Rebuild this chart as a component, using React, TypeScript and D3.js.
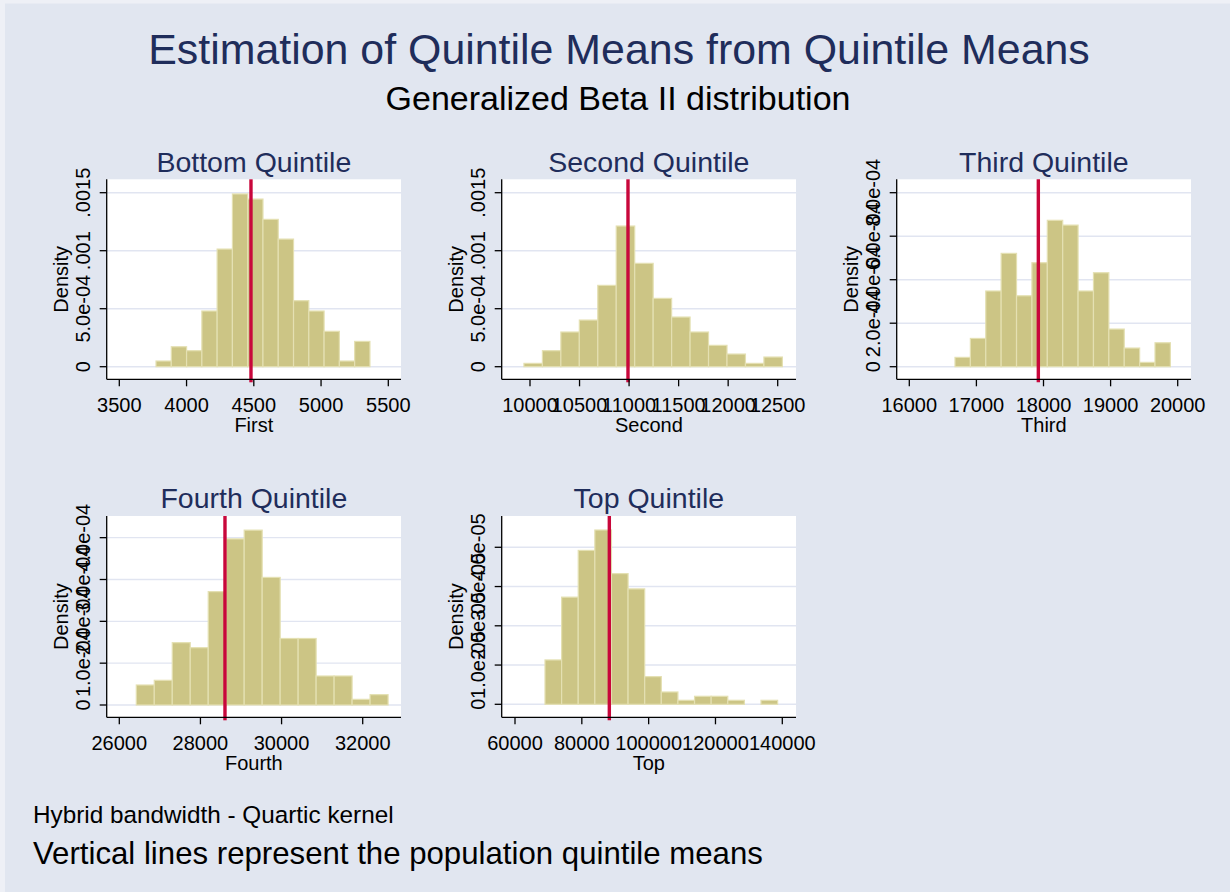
import React from "react";
import * as d3 from "d3";

// ---------- data ----------
const panelTitles = ["Bottom Quintile", "Second Quintile", "Third Quintile", "Fourth Quintile", "Top Quintile"];
const axisTitles = ["First", "Second", "Third", "Fourth", "Top"];

const firstBinStart = 3773;
const firstBinWidth = 113.6;
const firstDensity = [0.000049, 0.000172, 0.000138, 0.00048, 0.001014, 0.001489, 0.001445, 0.00127, 0.0011, 0.000569, 0.00048, 0.000305, 0.000049, 0.000218];
const firstMean = 4479;

const secondBinStart = 9939;
const secondBinWidth = 186.3;
const secondDensity = [0.0000287, 0.000138, 0.000299, 0.000402, 0.000701, 0.0012126, 0.000891, 0.000589, 0.000428, 0.000299, 0.000184, 0.000109, 0.0000287, 0.0000833];
const secondMean = 10989;

const thirdBinStart = 16681;
const thirdBinWidth = 229.3;
const thirdDensity = [0.0000429, 0.00013, 0.000348, 0.000521, 0.000326, 0.000478, 0.000673, 0.000651, 0.000348, 0.000432, 0.000173, 0.0000858, 0.0000199, 0.00011];
const thirdMean = 17923;

const fourthBinStart = 26419;
const fourthBinWidth = 443.3;
const fourthDensity = [0.0000478, 0.000059, 0.000149, 0.000137, 0.000271, 0.000397, 0.000418, 0.000305, 0.000159, 0.000159, 0.0000693, 0.0000693, 0.0000135, 0.0000247];
const fourthMean = 28605;

const topBinStart = 68978;
const topBinWidth = 4973;
const topDensity = [0.0000113, 0.0000273, 0.0000392, 0.0000444, 0.0000333, 0.0000294, 0.00000705, 0.00000314, 0.00000102, 0.00000204, 0.00000204, 0.00000102, 0, 0.00000102];
const topMean = 88229;

const firstXTicks = [3500, 4000, 4500, 5000, 5500];
const secondXTicks = [10000, 10500, 11000, 11500, 12000, 12500];
const thirdXTicks = [16000, 17000, 18000, 19000, 20000];
const fourthXTicks = [26000, 28000, 30000, 32000];
const topXTicks = [60000, 80000, 100000, 120000, 140000];

const firstYTicks = [0, 0.0005, 0.001, 0.0015];
const firstYLabels = ["0", "5.0e-04", ".001", ".0015"];
const thirdYTicks = [0, 0.0002, 0.0004, 0.0006, 0.0008];
const thirdYLabels = ["0", "2.0e-04", "4.0e-04", "6.0e-04", "8.0e-04"];
const fourthYTicks = [0, 0.0001, 0.0002, 0.0003, 0.0004];
const fourthYLabels = ["0", "1.0e-04", "2.0e-04", "3.0e-04", "4.0e-04"];
const topYTicks = [0, 0.00001, 0.00002, 0.00003, 0.00004];
const topYLabels = ["0", "1.0e-05", "2.0e-05", "3.0e-05", "4.0e-05"];

// ---------- layout ----------
const W = 1230;
const H = 892;
const FONT = "'Liberation Sans', Arial, Helvetica, sans-serif";
const NAVY = "#1f2d5b";
const BG = "#e1e6f0";
const BAR = "#ccc585";
const BAR_EDGE = "#e4e0b2";
const RED = "#c8073b";
const GRID = "#e1e5f1";

type Panel = {
  title: string; xTitle: string;
  rect: [number, number, number, number]; // left, top, right, bottom
  xDom: [number, number]; yDom: [number, number];
  binStart: number; binWidth: number; dens: number[]; mean: number;
  xTicks: number[]; yTicks: number[]; yLabels: string[];
};

const panels: Panel[] = [
  { title: panelTitles[0], xTitle: axisTitles[0], rect: [106.7, 179.3, 401, 379.3], xDom: [3406.3, 5594.4], yDom: [-0.0001086, 0.0016155],
    binStart: firstBinStart, binWidth: firstBinWidth, dens: firstDensity, mean: firstMean, xTicks: firstXTicks, yTicks: firstYTicks, yLabels: firstYLabels },
  { title: panelTitles[1], xTitle: axisTitles[1], rect: [501.7, 179.3, 796, 379.3], xDom: [9714.4, 12684.7], yDom: [-0.0001086, 0.0016155],
    binStart: secondBinStart, binWidth: secondBinWidth, dens: secondDensity, mean: secondMean, xTicks: secondXTicks, yTicks: firstYTicks, yLabels: firstYLabels },
  { title: panelTitles[2], xTitle: axisTitles[2], rect: [896.7, 179.3, 1191, 379.3], xDom: [15812.2, 20198.2], yDom: [-0.0000579, 0.0008616],
    binStart: thirdBinStart, binWidth: thirdBinWidth, dens: thirdDensity, mean: thirdMean, xTicks: thirdXTicks, yTicks: thirdYTicks, yLabels: thirdYLabels },
  { title: panelTitles[3], xTitle: axisTitles[3], rect: [106.7, 516, 401, 717.3], xDom: [25689.4, 32944], yDom: [-0.0000294, 0.0004518],
    binStart: fourthBinStart, binWidth: fourthBinWidth, dens: fourthDensity, mean: fourthMean, xTicks: fourthXTicks, yTicks: fourthYTicks, yLabels: fourthYLabels },
  { title: panelTitles[4], xTitle: axisTitles[4], rect: [501.7, 516, 796, 717.3], xDom: [56019, 144100], yDom: [-0.00000331, 0.00004797],
    binStart: topBinStart, binWidth: topBinWidth, dens: topDensity, mean: topMean, xTicks: topXTicks, yTicks: topYTicks, yLabels: topYLabels },
];

function PanelView({ p }: { p: Panel }) {
  const [l, t, r, b] = p.rect;
  const x = d3.scaleLinear().domain(p.xDom).range([l, r]);
  const y = d3.scaleLinear().domain(p.yDom).range([b, t]);
  const cx = (l + r) / 2;
  const cy = (t + b) / 2;
  return (
    <g>
      <rect x={l} y={t} width={r - l} height={b - t} fill="#ffffff" />
      {p.yTicks.map((v, i) => (
        <line key={"g" + i} x1={l} x2={r} y1={y(v)} y2={y(v)} stroke={GRID} strokeWidth={1.4} />
      ))}
      {p.dens.map((d, i) => {
        if (d <= 0) return null;
        const x0 = x(p.binStart + i * p.binWidth);
        const x1 = x(p.binStart + (i + 1) * p.binWidth);
        return (
          <rect key={"b" + i} x={x0} y={y(d)} width={x1 - x0} height={y(0) - y(d)}
            fill={BAR} stroke={BAR_EDGE} strokeWidth={1.2} />
        );
      })}
      <line x1={x(p.mean)} x2={x(p.mean)} y1={t} y2={b + 3} stroke={RED} strokeWidth={3.4} />
      {/* axes */}
      <line x1={l} x2={l} y1={t} y2={b} stroke="#000" strokeWidth={1.3} />
      <line x1={l} x2={r} y1={b} y2={b} stroke="#000" strokeWidth={1.3} />
      {p.yTicks.map((v, i) => (
        <g key={"yt" + i}>
          <line x1={l - 7} x2={l} y1={y(v)} y2={y(v)} stroke="#000" strokeWidth={1.3} />
          <text transform={`translate(${l - 16.7},${y(v)}) rotate(-90)`} textAnchor="middle"
            fontSize={20} fontFamily={FONT} fill="#000">{p.yLabels[i]}</text>
        </g>
      ))}
      {p.xTicks.map((v, i) => (
        <g key={"xt" + i}>
          <line x1={x(v)} x2={x(v)} y1={b} y2={b + 7} stroke="#000" strokeWidth={1.3} />
          <text x={x(v)} y={b + 32.5} textAnchor="middle" fontSize={20} fontFamily={FONT} fill="#000">
            {d3.format("d")(v)}
          </text>
        </g>
      ))}
      <text x={cx} y={b + 52.2} textAnchor="middle" fontSize={20} fontFamily={FONT} fill="#000">{p.xTitle}</text>
      <text transform={`translate(${l - 39},${cy}) rotate(-90)`} textAnchor="middle"
        fontSize={20} fontFamily={FONT} fill="#000">Density</text>
      <text x={cx} y={t - 7.7} textAnchor="middle" fontSize={28.5} fontFamily={FONT} fill={NAVY}>{p.title}</text>
    </g>
  );
}

export default function App() {
  return (
    <svg width={W} height={H} style={{ position: "absolute", left: 0, top: 0 }}>
      <rect x={0} y={0} width={W} height={H} fill="#eef0f6" />
      <rect x={5} y={3.5} width={W - 5} height={H - 3.5} fill={BG} />
      <text x={619} y={64.3} textAnchor="middle" fontSize={42.9} fontFamily={FONT} fill={NAVY}>
        Estimation of Quintile Means from Quintile Means
      </text>
      <text x={618} y={110} textAnchor="middle" fontSize={34} fontFamily={FONT} fill="#000">
        Generalized Beta II distribution
      </text>
      {panels.map((p, i) => <PanelView key={i} p={p} />)}
      <text x={33} y={823} fontSize={24.3} fontFamily={FONT} fill="#000">Hybrid bandwidth - Quartic kernel</text>
      <text x={33} y={864} fontSize={31.2} fontFamily={FONT} fill="#000">Vertical lines represent the population quintile means</text>
    </svg>
  );
}
